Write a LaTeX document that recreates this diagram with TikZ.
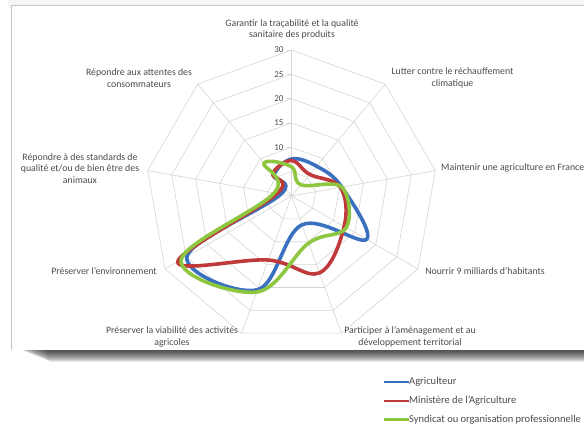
\documentclass[tikz,border=0pt]{standalone}
\usepackage{fontspec}
\setmainfont{Carlito}
\usepackage{xcolor}
\usetikzlibrary{calc}
\definecolor{agri}{RGB}{58,112,192}
\definecolor{mini}{RGB}{192,57,59}
\definecolor{synd}{RGB}{141,198,63}
\definecolor{grille}{RGB}{214,214,214}
\definecolor{texte}{RGB}{75,75,75}

\begin{document}
\begin{tikzpicture}[x=1pt,y=1pt,
  axe/.style={font=\fontsize{9.8}{11.6}\selectfont, text=texte, align=center, inner sep=0},
  graduation/.style={font=\fontsize{9}{10}\selectfont, text=texte, anchor=east, inner sep=0},
  legende/.style={font=\fontsize{10.5}{12}\selectfont, text=texte, anchor=west, inner sep=0},
  serie/.style={line width=3.6pt, line join=round}]
\useasboundingbox (0,0) rectangle (584,434);
\clip (0,0) rectangle (584,434);
% carte et ombre
\fill[black!4] (8,426) rectangle (600,434);
\foreach \k in {1,...,14}
 \fill[black, opacity=0.09, rounded corners=5pt] (12+2.5*\k,86-\k) rectangle (610,95);
\fill[white] (11,84) rectangle (600,429);
\draw[black!22, line width=0.5pt] (11,84) -- (11,429) -- (600,429);
% toile
\begin{scope}[shift={(291.5,238)}, x=4.8667pt, y=4.8667pt]
\foreach \r in {5,10,...,30}
 \draw[grille, line width=0.6pt] (90:\r) \foreach \a in {50,10,...,-230} { -- (\a:\r) } -- cycle;
\foreach \a in {90,50,...,-230}
 \draw[grille, line width=0.6pt] (0,0) -- (\a:30);
\foreach \v in {10,15,...,30} {
 \draw[grille, line width=0.6pt] (-1,\v) -- (0,\v);
 \node[graduation] (g\v) at (-1.6,\v) {\v};
}
\draw[serie, agri] plot[smooth cycle, tension=0.62] coordinates {(90:7.6) (50:8) (10:10.5) (-30:17.8) (-70:6.3) (-110:20.5) (-150:24.8) (-190:2.2) (-230:5.6)};
\draw[serie, mini] plot[smooth cycle, tension=0.62] coordinates {(90:7.3) (50:5.8) (10:10.2) (-30:12.5) (-70:16.8) (-110:14) (-150:27) (-190:3) (-230:6)};
\draw[serie, synd] plot[smooth cycle, tension=0.62] coordinates {(90:6) (50:3) (10:10.5) (-30:13) (-70:10.3) (-110:21) (-150:26.2) (-190:3.6) (-230:8.8)};
\end{scope}
% libelles des axes
\node[axe] (garantir) at (292,404.5) {Garantir la traçabilité et la qualité\\sanitaire des produits};
\node[axe] (lutter) at (452.5,356) {Lutter contre le réchauffement\\climatique};
\node[axe, anchor=west] (maintenir) at (441,266) {Maintenir une agriculture en France};
\node[axe] (nourrir) at (485,163) {Nourrir 9 milliards d'habitants};
\node[axe] (participer) at (410,97) {Participer à l'aménagement et au\\développement territorial};
\node[axe] (viabilite) at (172,97) {Préserver la viabilité des activités\\agricoles};
\node[axe] (environnement) at (104,163) {Préserver l'environnement};
\node[axe] (standards) at (80,265.5) {Répondre à des standards de\\qualité et/ou de bien être des\\animaux};
\node[axe] (attentes) at (139,356) {Répondre aux attentes des\\consommateurs};
% legende
\node[legende] (legAgri) at (409,52) {Agriculteur};
\node[legende] (legMini) at (409,33) {Ministère de l'Agriculture};
\node[legende] (legSynd) at (409,14.5) {Syndicat ou organisation professionnelle};
\draw[serie, agri, line width=2.8pt] (legAgri.west) -- ++(-25,0);
\draw[serie, mini, line width=2.8pt] (legMini.west) -- ++(-25,0);
\draw[serie, synd, line width=2.8pt] (legSynd.west) -- ++(-25,0);
\end{tikzpicture}
\end{document}
